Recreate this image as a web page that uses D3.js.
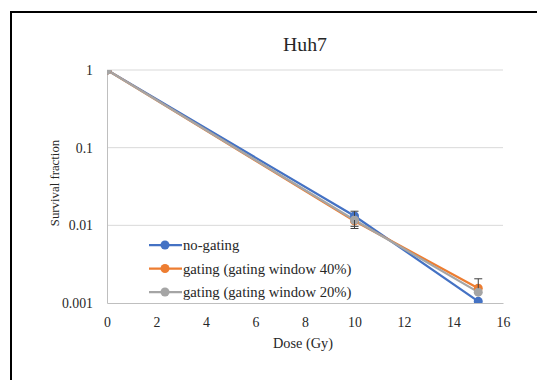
<!DOCTYPE html>
<html>
<head>
<meta charset="utf-8">
<script src="https://cdn.jsdelivr.net/npm/d3@7"></script>
<style>
  body { margin: 0; background: #fff; }
  svg text { font-family: 'Liberation Serif', 'Times New Roman', 'DejaVu Serif', serif; }
</style>
</head>
<body>
<script>
// data
var doses = [0, 10, 15];
var seriesNames = ["no-gating", "gating (gating window 40%)", "gating (gating window 20%)"];
var seriesColors = ["#4472c4", "#ed7d31", "#a5a5a5"];
var noGating = [1, 0.0132, 0.00105];
var gating40 = [1, 0.0114, 0.00155];
var gating20 = [1, 0.0117, 0.00138];
var errLow40 = [0, 0.0023, 0];
var errHigh40 = [0, 0, 0.0005];
var errHighNo = [0, 0.002, 0];
var errLow20 = [0, 0.002, 0];
var xTicks = [0, 2, 4, 6, 8, 10, 12, 14, 16];
var yTicks = [1, 0.1, 0.01, 0.001];

var width = 537, height = 380;
var svg = d3.select("body").append("svg")
    .attr("width", width)
    .attr("height", height);

//outer frame
svg.append("rect")
    .attr("x", 11).attr("y", 12)
    .attr("width", 560).attr("height", 400)
    .attr("fill", "#fff")
    .attr("stroke", "#000")
    .attr("stroke-width", 2);

var x = d3.scaleLinear().domain([0, 16]).range([107, 503]);
var y = d3.scaleLog().domain([0.001, 1]).range([303, 70]);

//gridlines
svg.selectAll(".grid").data(yTicks.slice(0, 3)).enter()
    .append("line")
    .attr("x1", x(0)).attr("x2", x(16))
    .attr("y1", d => y(d)).attr("y2", d => y(d))
    .attr("stroke", "#d9d9d9").attr("stroke-width", 1);

//axes
var xAxis = svg.append("g")
    .attr("transform", "translate(0," + y(0.001) + ")")
    .call(d3.axisBottom(x).tickValues(xTicks).tickSize(0).tickPadding(14));
var yAxis = svg.append("g")
    .attr("transform", "translate(" + x(0) + ",0)")
    .call(d3.axisLeft(y).tickValues(yTicks).tickSize(0).tickPadding(14)
        .tickFormat(d => String(d)));
[xAxis, yAxis].forEach(function(a){
    a.attr("font-family", null);
    a.select(".domain").attr("stroke", "#bfbfbf");
    a.selectAll("text").attr("font-size", 13.8).attr("fill", "#262626");
});

//titles
svg.append("text").attr("x", 305).attr("y", 51)
    .attr("text-anchor", "middle").attr("font-size", 19.8).attr("fill", "#262626").text("Huh7");
svg.append("text").attr("x", 303).attr("y", 348)
    .attr("text-anchor", "middle").attr("font-size", 14.3).attr("fill", "#262626").text("Dose (Gy)");
svg.append("text").attr("transform", "translate(59,183) rotate(-90)")
    .attr("text-anchor", "middle").attr("font-size", 12.8).attr("fill", "#262626").text("Survival fraction");

var series = [noGating, gating40, gating20];
var lows = [null, errLow40, errLow20];
var highs = [errHighNo, errHigh40, null];

svg.append("clipPath").attr("id", "plot")
    .append("rect").attr("x", x(0)).attr("y", y(1))
    .attr("width", x(16) - x(0)).attr("height", y(0.001) - y(1));

var plot = svg.append("g").attr("clip-path", "url(#plot)");

var line = d3.line().x((d, i) => x(doses[i])).y(d => y(d));

//error bars
series.forEach(function(vals, s){
    vals.forEach(function(v, i){
        var lo = lows[s] ? lows[s][i] : 0;
        var hi = highs[s] ? highs[s][i] : 0;
        if (!lo && !hi) return;
        var y1 = y(v + hi), y2 = y(v - lo);
        var cx = x(doses[i]);
        var g = svg.append("g").attr("stroke", "#404040").attr("stroke-width", 1);
        g.append("line").attr("x1", cx).attr("x2", cx).attr("y1", y1).attr("y2", y2);
        if (hi) g.append("line").attr("x1", cx - 4).attr("x2", cx + 4).attr("y1", y1).attr("y2", y1);
        if (lo) g.append("line").attr("x1", cx - 4).attr("x2", cx + 4).attr("y1", y2).attr("y2", y2);
    });
});

series.forEach(function(vals, s){
    plot.append("path").datum(vals)
        .attr("d", line)
        .attr("fill", "none")
        .attr("stroke", seriesColors[s])
        .attr("stroke-width", 2.25);
});
series.forEach(function(vals, s){
    plot.selectAll(".pt" + s).data(vals).enter()
        .append("circle")
        .attr("cx", (d, i) => x(doses[i]))
        .attr("cy", d => y(d))
        .attr("r", 4.5)
        .attr("fill", seriesColors[s]);
});

//legend
var legend = svg.append("g");
seriesNames.forEach(function(name, i){
    var ly = 245 + i * 23.5;
    legend.append("line").attr("x1", 149).attr("x2", 182)
        .attr("y1", ly).attr("y2", ly)
        .attr("stroke", seriesColors[i]).attr("stroke-width", 2.25);
    legend.append("circle").attr("cx", 165).attr("cy", ly).attr("r", 4.5)
        .attr("fill", seriesColors[i]);
    legend.append("text").attr("x", 183).attr("y", ly + 5)
        .attr("font-size", 14.7).attr("fill", "#262626").text(name);
});
</script>
</body>
</html>
